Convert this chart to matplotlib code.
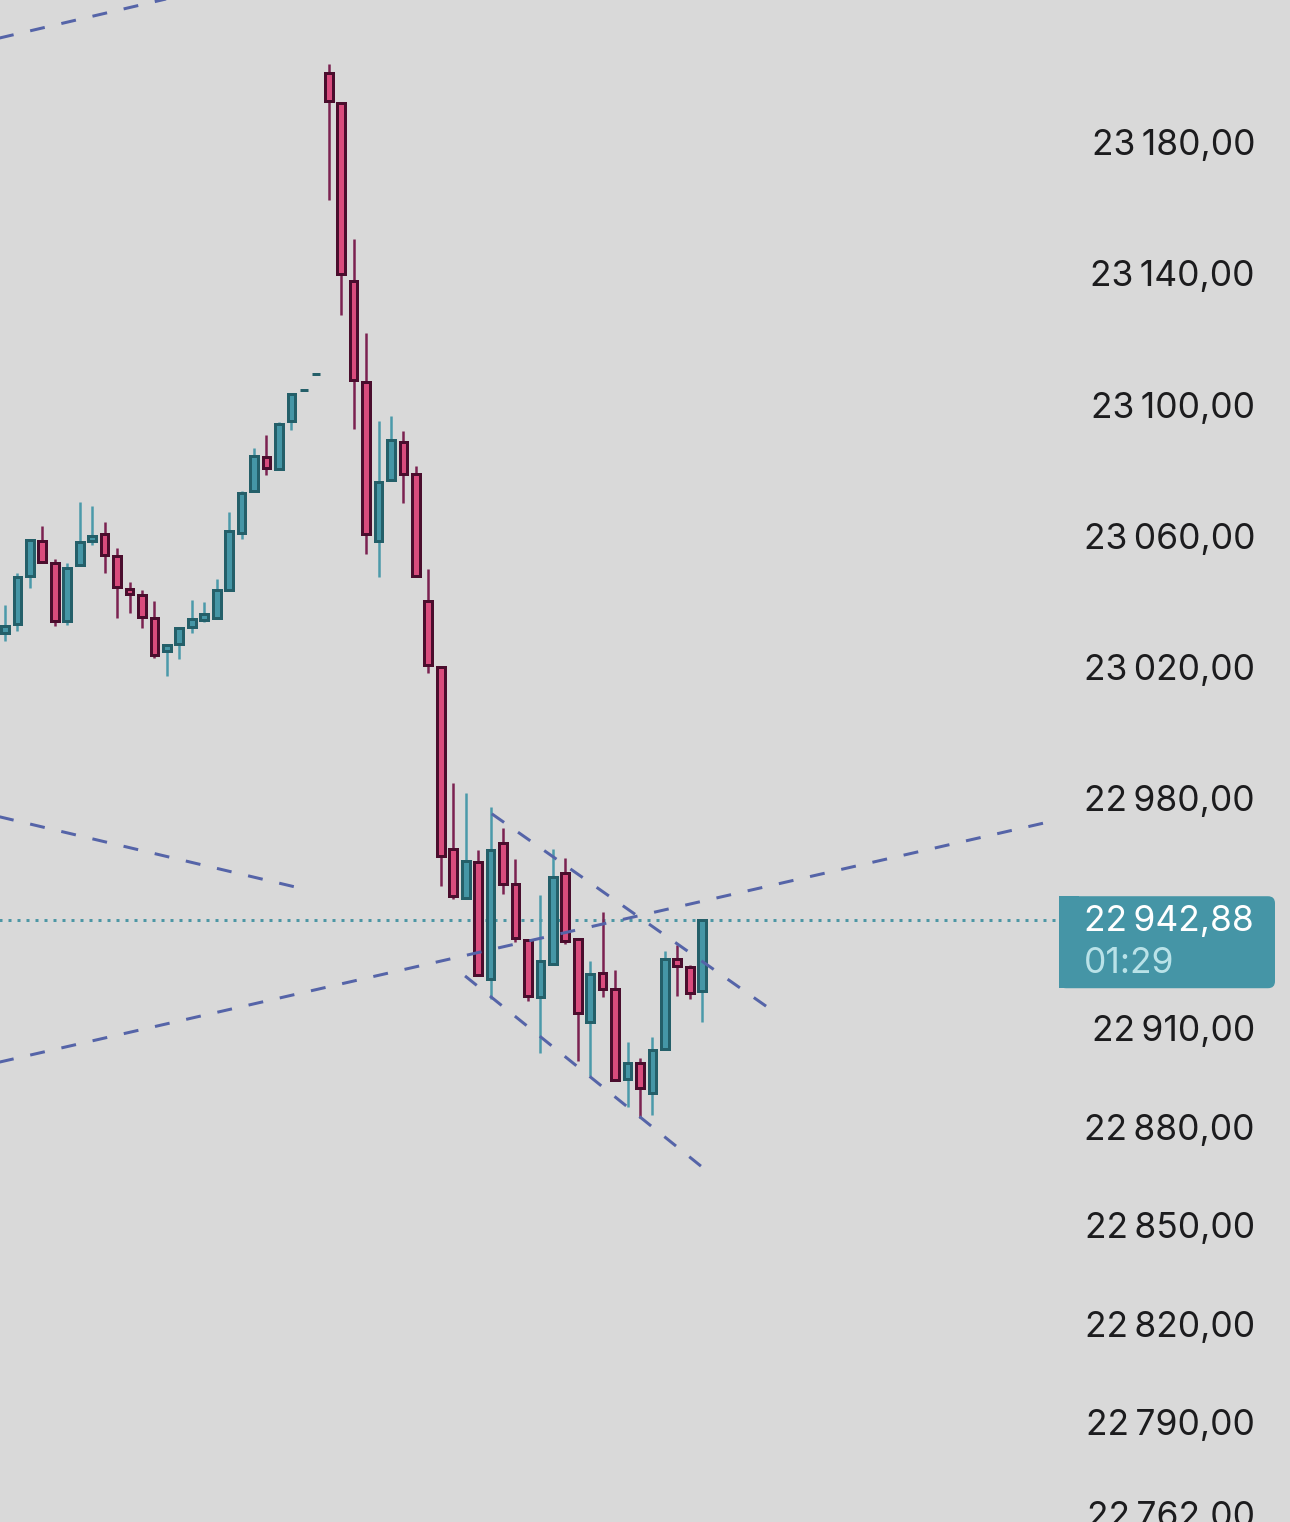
import matplotlib
matplotlib.use("Agg")
import matplotlib.pyplot as plt
from matplotlib.patches import Rectangle, FancyBboxPatch

plt.rcParams['font.family'] = ['Inter', 'DejaVu Sans']
plt.rcParams['lines.scale_dashes'] = False

# candles, oldest first
opens = [23030.4, 23033.2, 23047.8, 23058.5, 23051.8, 23034.1, 23051.1, 23058.5, 23060.6, 23053.9,
         23043.8, 23042.0, 23035.0, 23024.9, 23027.1, 23032.3, 23034.4, 23035.0, 23043.5, 23060.9,
         23073.7, 23084.1, 23080.4, 23095.0, 23104.5, 23109.3, 23201.1, 23191.9, 23137.7, 23106.9,
         23058.5, 23077.0, 23088.6, 23078.9, 23040.2, 23020.1, 22964.6, 22949.7, 22960.6, 22925.0,
         22966.4, 22953.9, 22936.9, 22919.5, 22929.6, 22957.3, 22937.2, 22911.9, 22926.8, 22922.0,
         22894.5, 22899.4, 22890.3, 22903.7, 22931.1, 22928.7, 22921.3]
highs = [23039.0, 23048.7, 23058.8, 23063.0, 23053.0, 23051.8, 23070.3, 23069.1, 23064.2, 23056.3,
         23046.0, 23043.5, 23040.2, 23026.8, 23032.3, 23040.5, 23039.9, 23046.9, 23067.3, 23073.7,
         23086.8, 23090.8, 23094.7, 23103.2, 23104.5, 23109.3, 23203.8, 23191.9, 23150.5, 23121.8,
         23095.0, 23096.5, 23092.0, 23081.3, 23049.9, 23020.1, 22984.7, 22981.7, 22964.3, 22977.4,
         22971.0, 22961.6, 22936.9, 22950.6, 22964.6, 22961.9, 22937.2, 22930.5, 22945.4, 22927.7,
         22905.8, 22900.9, 22907.3, 22933.5, 22935.4, 22929.3, 22942.88]
lows = [23028.0, 23031.0, 23044.1, 23052.1, 23032.6, 23032.9, 23051.1, 23057.2, 23048.7, 23035.0,
        23036.5, 23031.9, 23022.8, 23017.3, 23022.5, 23030.4, 23033.8, 23035.0, 23043.5, 23059.1,
        23073.7, 23078.6, 23080.4, 23092.3, 23104.5, 23109.3, 23162.4, 23127.3, 23092.6, 23054.5,
        23047.5, 23077.0, 23070.0, 23047.8, 23018.2, 22953.3, 22949.4, 22949.7, 22926.2, 22918.9,
        22950.9, 22936.3, 22918.3, 22902.4, 22929.6, 22935.7, 22900.0, 22895.4, 22919.5, 22894.2,
        22886.0, 22882.6, 22883.6, 22903.7, 22919.8, 22918.9, 22911.9]
closes = [23032.6, 23047.5, 23058.8, 23052.1, 23034.1, 23050.2, 23058.2, 23060.0, 23054.2, 23044.4,
          23042.3, 23035.3, 23023.7, 23026.8, 23031.9, 23034.7, 23036.2, 23043.5, 23061.5, 23073.1,
          23084.4, 23080.7, 23094.1, 23103.2, 23104.5, 23109.3, 23192.5, 23139.8, 23107.5, 23060.6,
          23076.4, 23089.2, 23078.9, 23047.8, 23020.7, 22962.5, 22950.3, 22960.9, 22926.2, 22964.3,
          22953.9, 22937.5, 22919.8, 22930.5, 22956.1, 22936.6, 22914.6, 22926.5, 22922.0, 22894.2,
          22899.4, 22891.8, 22903.4, 22931.1, 22929.0, 22920.7, 22942.88]

# drawn trend lines: (bar index, price) pairs
trend_lines = [
    [(-2, 23210.3), (16, 23226.3)],
    [(-2, 22975.8), (24.1, 22952.3)],
    [(-2, 22898.3), (83.45, 22972.5)],
    [(39.1, 22975.3), (61.69, 22915.2)],
    [(36.95, 22925.9), (56.47, 22866.2)],
]

tick_values = [23180, 23140, 23100, 23060, 23020, 22980, 22910, 22880, 22850, 22820, 22790, 22762]
last_price = 22942.88
timer_text = "01:29"

bg = '#d9d9d9'
up_fill, up_edge, up_wick = '#4596a6', '#245f69', '#4b9aaa'
dn_fill, dn_edge, dn_wick = '#d94c7d', '#4a0d2d', '#7b2251'
trend_color = '#5564a8'


def fmt(v):
    s = "{:,.2f}".format(v)
    return s.replace(',', '\u2009').replace('.', ',')


fig = plt.figure(figsize=(12.9, 15.22), dpi=100, facecolor=bg)
ax = fig.add_axes([0, 0, 1, 1])
ax.set_facecolor(bg)
ax.set_xlim(-0.402, 103.21)
ax.set_ylim(22759.52, 23223.27)
ax.axis('off')

px = 100 / 72  # pixels per point
body_w = 0.62
for i in range(len(opens)):
    o, h, l, c = opens[i], highs[i], lows[i], closes[i]
    if c >= o:
        fill, edge, wick = up_fill, up_edge, up_wick
    else:
        fill, edge, wick = dn_fill, dn_edge, dn_wick
    ax.vlines(i, l, h, color=wick, lw=2.5 / px, zorder=2)
    ax.add_patch(Rectangle((i - body_w / 2, min(o, c)), body_w, abs(c - o),
                           facecolor=fill, edgecolor=edge, lw=3 / px, zorder=3))

for line in trend_lines:
    xs = [p[0] for p in line]
    ys = [p[1] for p in line]
    ax.plot(xs, ys, color=trend_color, lw=3 / px, dashes=(15 / px, 17 / px),
            solid_capstyle='butt', dash_capstyle='butt', zorder=4)

# current price line
ax.plot([-1, 84.6], [last_price, last_price], color='#4d97a5', lw=3 / px,
        dashes=(3 / px, 6 / px), dash_capstyle='butt', zorder=1)

ytr = ax.get_yaxis_transform()
for v in tick_values:
    ax.text(1255 / 1290, v, fmt(v), transform=ytr, ha='right', va='center_baseline',
            fontsize=25.5, color='#1c1c1e')

# price label box, in pixel coords
ov = fig.add_axes([0, 0, 1, 1])
ov.set_xlim(0, 1290)
ov.set_ylim(0, 1522)
ov.axis('off')
ov.patch.set_alpha(0)
yc = ax.transData.transform((0, last_price))[1]
box_top, box_bot = yc + 24, yc - 68
ov.add_patch(FancyBboxPatch((1059, box_bot), 216, box_top - box_bot,
                            boxstyle='round,pad=0,rounding_size=7',
                            facecolor='#4595a6', edgecolor='none'))
ov.add_patch(Rectangle((1059, box_bot), 20, box_top - box_bot,
                       facecolor='#4595a6', edgecolor='none'))
ov.text(1084, yc + 2, fmt(last_price), ha='left', va='center_baseline', fontsize=25.5, color='white')
ov.text(1084, yc - 40, timer_text, ha='left', va='center_baseline', fontsize=25.5, color='#b9e2e8')

fig.savefig('out.png', dpi=100, facecolor=bg)
